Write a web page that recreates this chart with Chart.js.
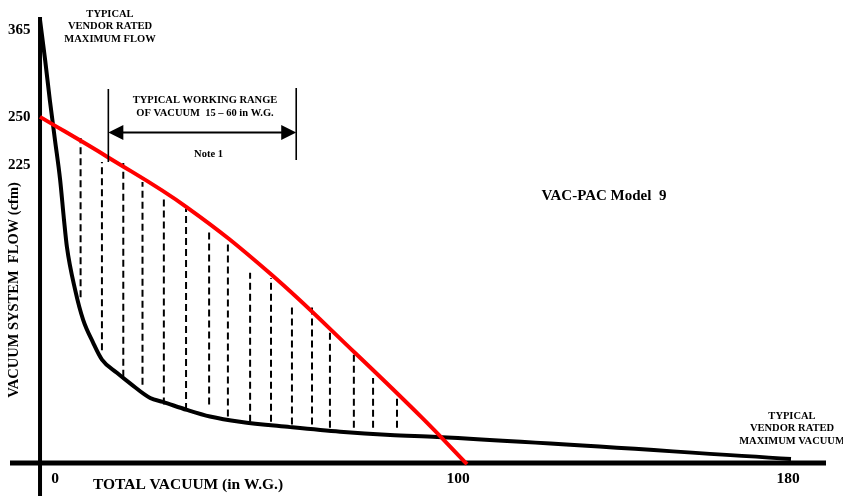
<!DOCTYPE html>
<html>
<head>
<meta charset="utf-8">
<script src="https://cdn.jsdelivr.net/npm/chart.js@4.4.1/dist/chart.umd.min.js"></script>
<style>
  html, body { margin: 0; padding: 0; background: #fff; }
  #wrap { width: 843px; height: 496px; position: relative; }
</style>
</head>
<body>
<div id="wrap"><canvas id="c"></canvas></div>
<script>
// ── Data ──────────────────────────────────────
const xTicks = [0, 100, 180];
const xTickLabels = ['0', '100', '180'];
const yTicks = [225, 250, 365];

// system curve (black)
const sysX = [0, 1.2, 2.3, 3.5, 4.7, 5.6, 6.3, 8.2, 10.1, 12.4, 14.5, 18, 21.1, 25.8, 28.8, 34.4, 39.8, 46.8, 58.6, 70.3, 82, 93, 181];
const sysY = [378, 325, 272, 238, 214, 184, 163, 131, 108, 91, 78, 68, 60, 49, 46, 40, 35, 31, 27, 23.5, 21, 19.5, 3];

// VAC-PAC Model 9 curve (red)
const pacX = [0, 15.9, 34.4, 53.9, 73.8, 89.5, 100];
const pacY = [250, 229, 193, 143, 83, 34, -1];

// hatching between the curves
const dashX = [9.5, 14.5, 19.5, 24, 29, 34.2, 39.6, 44, 49.2, 54.1, 59, 63.7, 67.9, 73.5, 78, 83.6];
const dashTop = [239, 226.5, 226, 212, 199, 192, 176, 167, 143.5, 139.5, 119, 118, 102, 83, 64, 51];
const dashBottom = [125, 85, 65, 59, 44, 40, 44, 35, 31, 31, 29, 29, 26.5, 26.5, 26.5, 26.5];

// typical working range bracket (in W.G.)
const workingRange = [16, 60];

// ── Schematic axes: piecewise-linear scale ────
// the drawing is not to scale, so each axis maps its labelled values
// to where they sit on the sheet and interpolates in between
const knots = {
  x: { values: [0, 100, 180], pos: [40, 467, 787] },
  y: { values: [0, 225, 250, 365], pos: [463, 165, 117, 30] }
};

class KnotScale extends Chart.LinearScale {
  static id = 'knot';
  pos(v) {
    const k = knots[this.id], n = k.values.length;
    let i = 0;
    while (i < n - 2 && v > k.values[i + 1]) i++;
    return k.pos[i] + (v - k.values[i]) * (k.pos[i + 1] - k.pos[i]) / (k.values[i + 1] - k.values[i]);
  }
  getPixelForValue(value) {
    if (value === null || value === undefined || isNaN(value)) return NaN;
    const a = this.pos(this.min), b = this.pos(this.max);
    return this.getPixelForDecimal((this.pos(value) - a) / (b - a));
  }
  getValueForPixel(pixel) {
    const k = knots[this.id], n = k.values.length;
    const a = this.pos(this.min), b = this.pos(this.max);
    const p = a + this.getDecimalForPixel(pixel) * (b - a);
    const dir = Math.sign(k.pos[n - 1] - k.pos[0]);
    let i = 0;
    while (i < n - 2 && (p - k.pos[i + 1]) * dir > 0) i++;
    return k.values[i] + (p - k.pos[i]) * (k.values[i + 1] - k.values[i]) / (k.pos[i + 1] - k.pos[i]);
  }
}
Chart.register(KnotScale);

const SERIF = '"Liberation Serif", "Times New Roman", serif';
Chart.defaults.font.family = SERIF;
Chart.defaults.color = '#000';

const pts = (xs, ys) => xs.map((x, i) => ({ x, y: ys[i] }));
const dashPts = dashX.flatMap((x, i) => [{ x, y: dashBottom[i] }, { x, y: dashTop[i] }, { x, y: null }]);

function txt(ctx, s, x, y, size, align) {
  ctx.font = 'bold ' + size + 'px ' + SERIF;
  ctx.textAlign = align || 'center';
  ctx.textBaseline = 'middle';
  ctx.fillText(s, x, y);
}

// ── Axes lines, ticks along x, notes ──────────
const sheet = {
  id: 'sheet',
  beforeDatasetsDraw(chart) {
    const { ctx, chartArea: a, scales: { x, y } } = chart;
    ctx.save();
    ctx.strokeStyle = '#000';
    ctx.lineWidth = 5;
    ctx.beginPath();
    ctx.moveTo(a.left + 2, y.getPixelForValue(0));
    ctx.lineTo(a.right, y.getPixelForValue(0));
    ctx.stroke();
    ctx.lineWidth = 4;
    ctx.beginPath();
    ctx.moveTo(x.getPixelForValue(0), a.top);
    ctx.lineTo(x.getPixelForValue(0), a.bottom);
    ctx.stroke();
    ctx.restore();
  },
  afterDraw(chart) {
    const { ctx, scales: { x, y } } = chart;
    ctx.save();
    ctx.fillStyle = '#000';
    ctx.strokeStyle = '#000';

    // x tick labels (set slightly off their ticks, as on the sheet)
    const shift = [15, -9, 1];
    const base = y.getPixelForValue(0);
    xTicks.forEach((v, i) => txt(ctx, xTickLabels[i], x.getPixelForValue(v) + shift[i], base + 16, 15.5));

    // working range bracket
    const xl = x.getPixelForValue(workingRange[0]);
    const xr = x.getPixelForValue(workingRange[1]);
    const ay = 132.5;
    ctx.lineWidth = 1.6;
    ctx.beginPath();
    ctx.moveTo(xl, 89); ctx.lineTo(xl, 162);
    ctx.moveTo(xr, 88); ctx.lineTo(xr, 160);
    ctx.stroke();
    ctx.lineWidth = 2;
    ctx.beginPath();
    ctx.moveTo(xl + 12, ay); ctx.lineTo(xr - 12, ay);
    ctx.stroke();
    ctx.beginPath();
    ctx.moveTo(xl, ay); ctx.lineTo(xl + 15, ay - 7.5); ctx.lineTo(xl + 15, ay + 7.5); ctx.closePath();
    ctx.moveTo(xr, ay); ctx.lineTo(xr - 15, ay - 7.5); ctx.lineTo(xr - 15, ay + 7.5); ctx.closePath();
    ctx.fill();

    txt(ctx, 'TYPICAL WORKING RANGE', 205, 100.5, 10.5);
    txt(ctx, 'OF VACUUM  15 \u2013 60 in W.G.', 205, 113.5, 10.5);
    txt(ctx, 'Note 1', 208.5, 154, 10.5);

    txt(ctx, 'TYPICAL', 110, 14, 10.5);
    txt(ctx, 'VENDOR RATED', 110, 26.5, 10.5);
    txt(ctx, 'MAXIMUM FLOW', 110, 39, 10.5);

    txt(ctx, 'TYPICAL', 792, 416, 10.5);
    txt(ctx, 'VENDOR RATED', 792, 428.5, 10.5);
    txt(ctx, 'MAXIMUM VACUUM', 792, 441, 10.5);

    txt(ctx, 'VAC-PAC Model  9', 604, 196, 15);
    txt(ctx, 'TOTAL VACUUM (in W.G.)', 188, 485, 15.5);

    ctx.translate(14, 290);
    ctx.rotate(-Math.PI / 2);
    txt(ctx, 'VACUUM SYSTEM  FLOW (cfm)', 0, 0, 14.5);
    ctx.restore();
  }
};

new Chart(document.getElementById('c'), {
  type: 'line',
  data: {
    datasets: [
      {
        label: 'VAC-PAC Model 9',
        data: pts(pacX, pacY),
        borderColor: '#ff0000',
        borderWidth: 4,
        tension: 0.4,
        pointRadius: 0
      },
      {
        label: 'System',
        data: pts(sysX, sysY),
        borderColor: '#000',
        borderWidth: 4,
        cubicInterpolationMode: 'monotone',
        pointRadius: 0
      },
      {
        label: 'Range',
        data: dashPts,
        borderColor: '#000',
        borderWidth: 2,
        borderDash: [7, 4],
        spanGaps: false,
        pointRadius: 0
      }
    ]
  },
  options: {
    responsive: true,
    maintainAspectRatio: false,
    animation: false,
    layout: { padding: { left: 8, top: 17, right: 17, bottom: 0 } },
    plugins: { legend: { display: false }, tooltip: { enabled: false } },
    scales: {
      x: { type: 'knot', min: -7.5, max: 189.75, display: false },
      y: {
        type: 'knot',
        min: -25,
        max: 382,
        grid: { display: false },
        border: { display: false },
        ticks: { mirror: true, padding: 0, color: '#000', font: { size: 15, weight: 'bold' } },
        afterBuildTicks: s => { s.ticks = yTicks.map(v => ({ value: v })); },
        afterFit: s => { s.paddingTop = 0; s.paddingBottom = 0; s.width = 0; }
      }
    }
  },
  plugins: [sheet]
});
</script>
</body>
</html>
